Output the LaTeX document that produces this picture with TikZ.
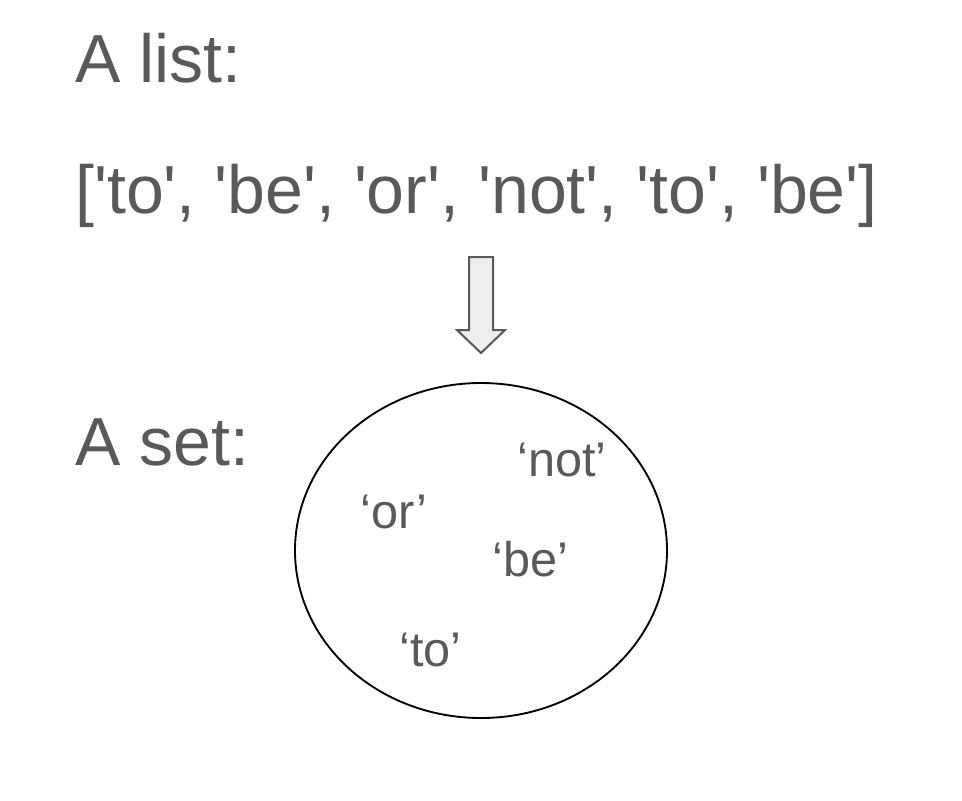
\documentclass[tikz,border=0pt]{standalone}
\usepackage{fontspec}
\setmainfont{Liberation Sans}
\usepackage{tikz}

\definecolor{txtgray}{RGB}{89,89,89}
\definecolor{arrowfill}{RGB}{238,238,238}
\newcommand{\sq}{\textquotesingle}

\begin{document}
\begin{tikzpicture}[x=0.75pt,y=0.75pt,yscale=-1,xscale=1,
  bigtext/.style={anchor=base west,inner sep=0pt,text=txtgray,font=\fontsize{51}{61}\selectfont},
  elemtext/.style={anchor=base west,inner sep=0pt,text=txtgray,font=\fontsize{36.5}{44}\selectfont}]
%set diagram size 962 x 800
\useasboundingbox (0,0) rectangle (962,800);

% Text Node
\node [bigtext] (listlabel) at (75,82) {A list:};
% Text Node
\node [bigtext] (listitems) at (75,213) {[\sq to\sq, \sq be\sq, \sq or\sq, \sq not\sq, \sq to\sq, \sq be\sq]};
% Text Node
\node [bigtext] (setlabel) at (75,465) {A set:};

%Block Arrow
\draw [color=txtgray,fill=arrowfill,line width=1.5pt,line join=miter] (469,257) -- (493,257) -- (493,330) -- (505,330) -- (481,353) -- (457,330) -- (469,330) -- cycle;

%Ellipse
\draw [line width=1.4pt] (481,550.5) ellipse [x radius=186, y radius=167.5];

% Text Node
\node [elemtext] (setnot) at (517,476) {‘not’};
% Text Node
\node [elemtext] (setor) at (360,528) {‘or’};
% Text Node
\node [elemtext] (setbe) at (492,576) {‘be’};
% Text Node
\node [elemtext] (setto) at (399,666) {‘to’};

\end{tikzpicture}
\end{document}
